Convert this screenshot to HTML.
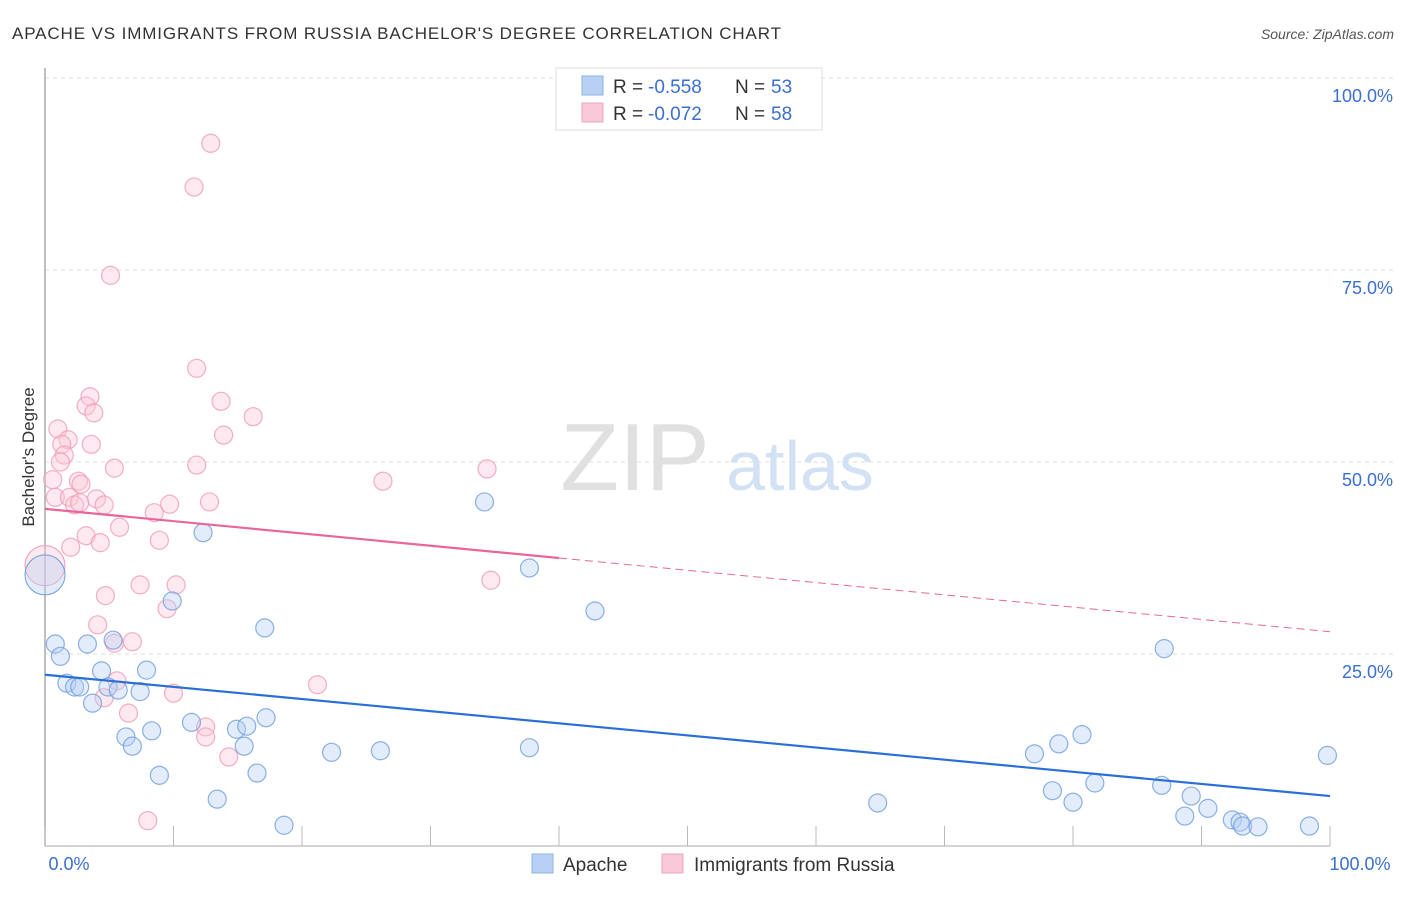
<!DOCTYPE html>
<html><head><meta charset="utf-8"><style>
body{margin:0;background:#fff;font-family:"Liberation Sans",sans-serif;}
svg text{font-family:"Liberation Sans",sans-serif;}
</style></head><body>
<svg width="1406" height="892" viewBox="0 0 1406 892">
<text x="12" y="39" font-size="17" fill="#333" textLength="769" lengthAdjust="spacing">APACHE VS IMMIGRANTS FROM RUSSIA BACHELOR'S DEGREE CORRELATION CHART</text>
<text x="1394" y="39" font-size="14" fill="#555" font-style="italic" text-anchor="end">Source: ZipAtlas.com</text>
<g id="grid"></g>
<g>
<text x="635" y="490" font-size="96" fill="#e0e0e0" font-family="Liberation Serif" text-anchor="middle">ZIP</text>
<text x="800" y="490" font-size="70" fill="#d3e1f5" text-anchor="middle">atlas</text>
</g>
<line x1="45" y1="68" x2="45" y2="846" stroke="#aaa" stroke-width="1.5"/>
<line x1="45" y1="846" x2="1330" y2="846" stroke="#aaa" stroke-width="1"/>
<g id="xticks"></g>
<g id="ylabels"></g>
<text x="69" y="870" font-size="18" fill="#3a6fcf" text-anchor="middle">0.0%</text>
<text x="1360" y="870" font-size="18" fill="#3a6fcf" text-anchor="middle">100.0%</text>
<text transform="translate(34,457) rotate(-90)" font-size="17" fill="#333" text-anchor="middle">Bachelor's Degree</text>
<g id="marks"></g>
<g>
<rect x="556" y="68" width="266" height="62" fill="#fff" stroke="#ddd"/>
<rect x="582" y="76" width="21" height="19" fill="#b7d0f3" stroke="#8fb3e6"/>
<rect x="582" y="103" width="21" height="19" fill="#fac9d7" stroke="#f0a4bb"/>
<text x="613" y="93" font-size="19" fill="#333">R =</text>
<text x="648" y="93" font-size="19" fill="#3a6fcf">-0.558</text>
<text x="735" y="93" font-size="19" fill="#333">N =</text>
<text x="771" y="93" font-size="19" fill="#3a6fcf">53</text>
<text x="613" y="120" font-size="19" fill="#333">R =</text>
<text x="648" y="120" font-size="19" fill="#3a6fcf">-0.072</text>
<text x="735" y="120" font-size="19" fill="#333">N =</text>
<text x="771" y="120" font-size="19" fill="#3a6fcf">58</text>
</g>
<g>
<rect x="532" y="854" width="21" height="19" fill="#b7d0f3" stroke="#8fb3e6"/>
<text x="563" y="871" font-size="19" fill="#333">Apache</text>
<rect x="662" y="854" width="21" height="19" fill="#fac9d7" stroke="#f0a4bb"/>
<text x="694" y="871" font-size="19" fill="#333">Immigrants from Russia</text>
</g>
</svg>
<script>
const yTicks=[25,50,75,100];
const yTickLabels=["25.0%","50.0%","75.0%","100.0%"];
const xTicks=[0,10,20,30,40,50,60,70,80,90,100];
const apacheX=[0.8,1.2,1.7,2.3,2.7,3.3,3.7,4.4,4.9,5.3,5.7,6.3,6.8,7.4,7.9,8.3,8.9,9.9,11.4,12.3,13.4,14.9,15.5,15.7,16.5,17.1,17.2,18.6,22.3,26.1,34.2,37.7,37.7,42.8,64.8,77.0,78.4,78.9,80.0,80.7,81.7,86.9,87.1,88.7,89.2,90.5,92.4,93.0,93.2,94.4,98.4,99.8];
const apacheY=[26.3,24.7,21.2,20.7,20.7,26.3,18.6,22.8,20.7,26.8,20.3,14.2,13.0,20.1,22.9,15.0,9.2,31.9,16.1,40.8,6.1,15.2,13.0,15.6,9.5,28.4,16.7,2.7,12.2,12.4,44.8,12.8,36.2,30.6,5.6,12.0,7.2,13.3,5.7,14.5,8.2,7.9,25.7,3.9,6.5,4.9,3.4,3.1,2.6,2.5,2.6,11.8];
const russiaX=[12.9,11.6,5.1,11.8,13.7,16.2,3.5,3.2,3.8,1.0,13.9,1.8,1.3,3.6,1.5,1.2,5.4,11.8,34.4,26.3,0.6,2.6,2.8,0.8,4.0,1.9,2.3,2.7,4.6,12.8,9.7,8.5,5.8,3.2,8.9,4.3,2.0,7.4,10.2,34.7,4.7,9.5,4.1,5.4,6.8,21.2,5.6,10.0,4.6,6.5,12.5,12.5,14.3,8.0];
const russiaY=[91.5,85.8,74.3,62.2,57.9,55.9,58.5,57.3,56.4,54.3,53.5,52.9,52.3,52.3,50.9,50.0,49.2,49.6,49.1,47.5,47.7,47.5,47.1,45.4,45.2,45.4,44.4,44.7,44.4,44.8,44.5,43.4,41.5,40.4,39.8,39.5,38.9,34.0,34.0,34.6,32.6,30.9,28.8,26.4,26.6,21.0,21.5,19.9,19.3,17.3,15.5,14.2,11.6,3.3];
const apacheTrend=[22.3,6.5];
const russiaTrend=[43.9,37.5,27.9];
const bigApache=[0,35.3];
const bigRussia=[0,36.5];
const NS="http://www.w3.org/2000/svg";
const sx=v=>45+v*12.85, sy=v=>846-v*7.68;
function mk(tag,attrs,parent){const e=document.createElementNS(NS,tag);for(const k in attrs)e.setAttribute(k,attrs[k]);parent.appendChild(e);return e;}
const grid=document.getElementById('grid'),yl=document.getElementById('ylabels'),xt=document.getElementById('xticks'),marks=document.getElementById('marks');
yTicks.forEach((t,i)=>{
 const l=mk('line',{x1:45,x2:1394,y1:sy(t),y2:sy(t),stroke:'#ddd','stroke-dasharray':'4,4'},grid);
 
 
 const tx=mk('text',{x:1393,y:sy(t)+24,'font-size':18,fill:'#3a6fcf','text-anchor':'end'},yl);
 tx.textContent=yTickLabels[i];
 
 
});
xTicks.forEach(t=>{
 const l=mk('line',{x1:sx(t),x2:sx(t),y1:826,y2:846,stroke:'#bbb'},xt);
 
 
});
function dots(xs,ys,fill,stroke,name){xs.forEach((x,i)=>{
 const c=mk('circle',{cx:sx(x),cy:sy(ys[i]),r:9,fill:fill,'fill-opacity':0.4,stroke:stroke,'stroke-opacity':0.8,'stroke-width':1.2},marks);
 
 
});}
const b1=mk('circle',{cx:sx(bigRussia[0]),cy:sy(bigRussia[1]),r:20,fill:'#fac9d7','fill-opacity':0.4,stroke:'#f29ab5'},marks);


const b2=mk('circle',{cx:sx(bigApache[0]),cy:sy(bigApache[1]),r:20,fill:'#b7d0f3','fill-opacity':0.4,stroke:'#6f9de0'},marks);


dots(russiaX,russiaY,'#fac9d7','#f29ab5','russia-point');
dots(apacheX,apacheY,'#b7d0f3','#6f9de0','apache-point');
const t1=mk('line',{x1:sx(0),y1:sy(apacheTrend[0]),x2:sx(100),y2:sy(apacheTrend[1]),stroke:'#2a6fd6','stroke-width':2.2},marks);


const t2=mk('line',{x1:sx(0),y1:sy(russiaTrend[0]),x2:sx(40),y2:sy(russiaTrend[1]),stroke:'#e8679a','stroke-width':2.2},marks);


const t3=mk('line',{x1:sx(40),y1:sy(russiaTrend[1]),x2:sx(100),y2:sy(russiaTrend[2]),stroke:'#e8679a','stroke-width':1,'stroke-dasharray':'8,5'},marks);


</script>
</body></html>
